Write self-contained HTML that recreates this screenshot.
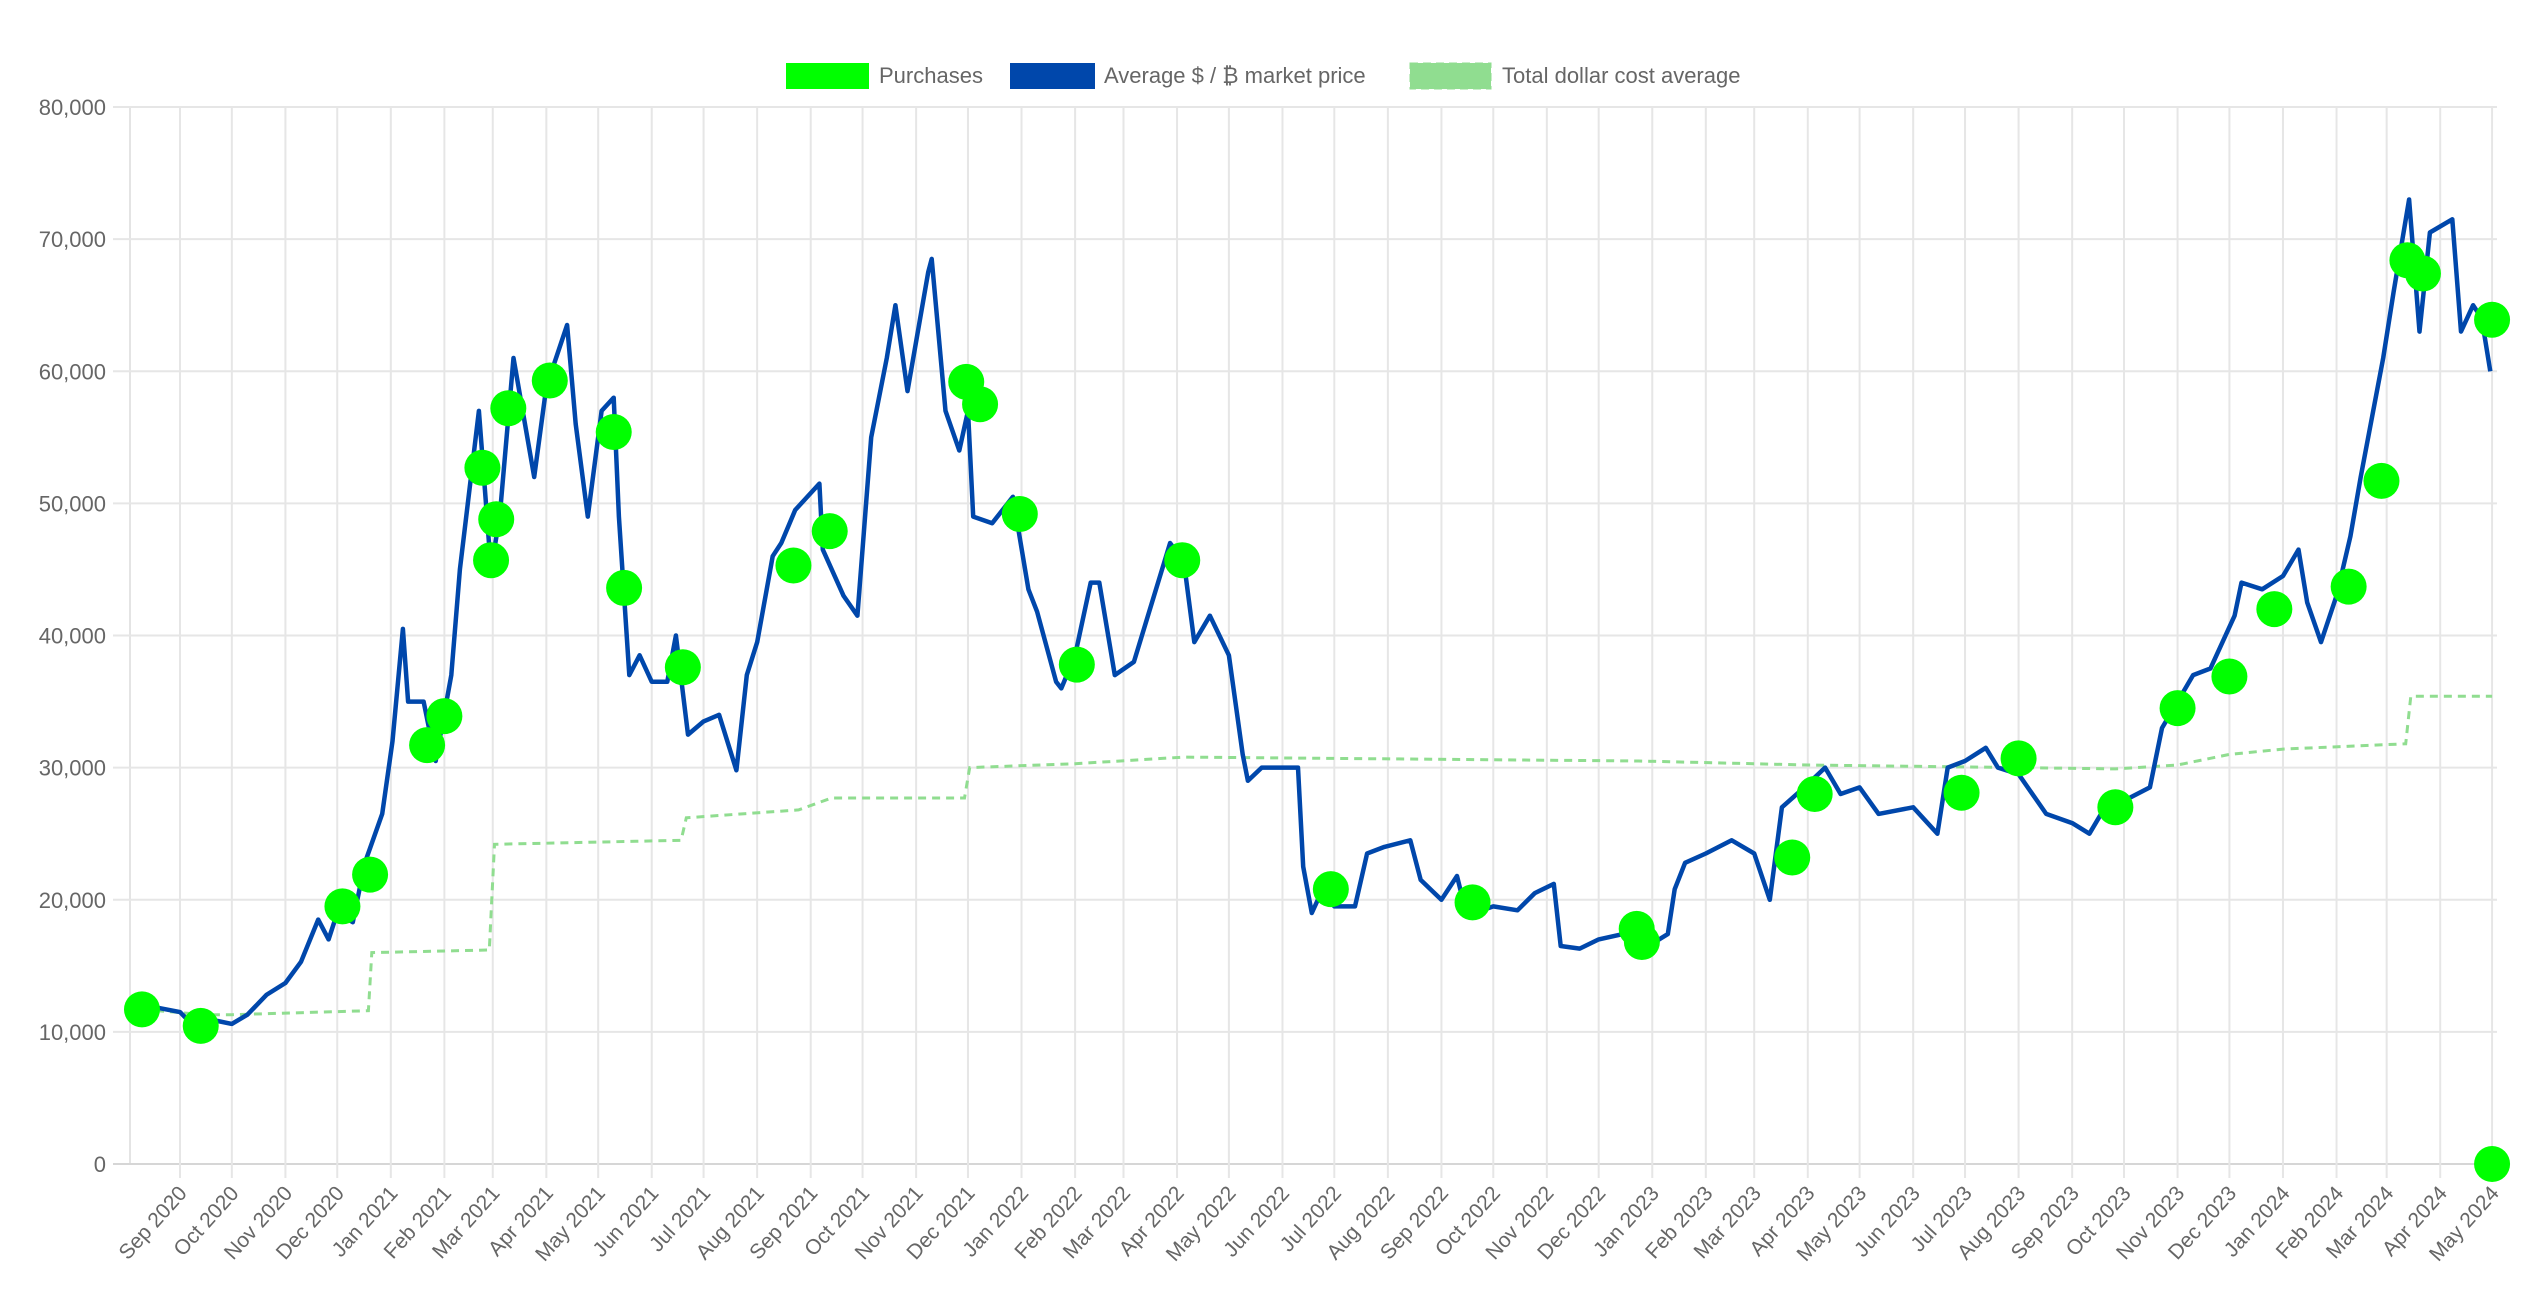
<!DOCTYPE html>
<html><head><meta charset="utf-8"><style>
html,body{margin:0;padding:0;background:#fff;}
svg{display:block;font-family:"Liberation Sans",sans-serif;}
</style></head><body>
<svg id="chart" width="2546" height="1296" viewBox="0 0 2546 1296" xmlns="http://www.w3.org/2000/svg">
<g id="legend" font-size="22" fill="#666">
 <g><rect x="786" y="63" width="83" height="26" fill="#00ff00"/><text x="879" y="83">Purchases</text></g>
 <g><rect x="1010" y="63" width="85" height="26" fill="#0047ab"/><text x="1104" y="83">Average $ / ₿ market price</text></g>
 <g><rect x="1410" y="63" width="81" height="26" fill="#90dd90" stroke="#90dd90" stroke-dasharray="8,5"/><text x="1502" y="83">Total dollar cost average</text></g>
</g>
<g id="grid"></g>
<g id="yaxis"></g>
<g id="xaxis"></g>
<g id="series"></g>
</svg>
<script>
const yTicks=[0,10000,20000,30000,40000,50000,60000,70000,80000];
const monthLabels=["Sep 2020","Oct 2020","Nov 2020","Dec 2020","Jan 2021","Feb 2021","Mar 2021","Apr 2021","May 2021","Jun 2021","Jul 2021","Aug 2021","Sep 2021","Oct 2021","Nov 2021","Dec 2021","Jan 2022","Feb 2022","Mar 2022","Apr 2022","May 2022","Jun 2022","Jul 2022","Aug 2022","Sep 2022","Oct 2022","Nov 2022","Dec 2022","Jan 2023","Feb 2023","Mar 2023","Apr 2023","May 2023","Jun 2023","Jul 2023","Aug 2023","Sep 2023","Oct 2023","Nov 2023","Dec 2023","Jan 2024","Feb 2024","Mar 2024","Apr 2024","May 2024"];
const priceDates=["2020-08-02","2020-08-10","2020-08-20","2020-09-01","2020-09-10","2020-09-20","2020-10-01","2020-10-10","2020-10-21","2020-11-01","2020-11-10","2020-11-20","2020-11-26","2020-12-01","2020-12-10","2020-12-17","2020-12-27","2021-01-02","2021-01-08","2021-01-11","2021-01-20","2021-01-27","2021-02-05","2021-02-10","2021-02-21","2021-02-28","2021-03-05","2021-03-13","2021-03-25","2021-04-01","2021-04-13","2021-04-18","2021-04-25","2021-05-03","2021-05-10","2021-05-13","2021-05-19","2021-05-25","2021-06-01","2021-06-10","2021-06-15","2021-06-22","2021-07-01","2021-07-10","2021-07-20","2021-07-26","2021-08-01","2021-08-10","2021-08-15","2021-08-23","2021-09-06","2021-09-08","2021-09-20","2021-09-28","2021-10-06","2021-10-15","2021-10-20","2021-10-27","2021-11-08","2021-11-10","2021-11-18","2021-11-26","2021-12-01","2021-12-04","2021-12-15","2021-12-27","2022-01-05","2022-01-10","2022-01-21","2022-01-24","2022-02-01","2022-02-10","2022-02-15","2022-02-24","2022-03-07","2022-03-28","2022-04-05","2022-04-11","2022-04-20","2022-05-01","2022-05-09","2022-05-12","2022-05-20","2022-06-01","2022-06-10","2022-06-13","2022-06-18","2022-06-25","2022-07-01","2022-07-13","2022-07-20","2022-07-30","2022-08-14","2022-08-20","2022-09-01","2022-09-10","2022-09-13","2022-09-20","2022-10-01","2022-10-15","2022-10-25","2022-11-05","2022-11-09","2022-11-20","2022-12-01","2022-12-15","2022-12-31","2023-01-10","2023-01-14","2023-01-20","2023-02-01","2023-02-16","2023-03-01","2023-03-10","2023-03-17","2023-03-30","2023-04-11","2023-04-20","2023-05-01","2023-05-12","2023-06-01","2023-06-15","2023-06-21","2023-07-01","2023-07-13","2023-07-20","2023-08-01","2023-08-17","2023-09-01","2023-09-11","2023-09-20","2023-10-01","2023-10-16","2023-10-23","2023-11-01","2023-11-10","2023-11-20","2023-12-04","2023-12-08","2023-12-20","2024-01-01","2024-01-10","2024-01-15","2024-01-23","2024-02-01","2024-02-09","2024-02-15","2024-02-28","2024-03-05","2024-03-14","2024-03-20","2024-03-26","2024-04-08","2024-04-13","2024-04-20","2024-04-25","2024-04-30"];
const priceValues=[11500,11800,11800,11500,10300,10900,10600,11300,12800,13700,15300,18500,17000,19000,18300,22800,26500,32000,40500,35000,35000,30500,37000,45000,57000,45000,49000,61000,52000,58800,63500,56000,49000,57000,58000,49000,37000,38500,36500,36500,40000,32500,33500,34000,29800,37000,39500,46000,47000,49500,51500,46500,43000,41500,55000,61000,65000,58500,67500,68500,57000,54000,57000,49000,48500,50500,43500,41800,36500,36000,38500,44000,44000,37000,38000,47000,45500,39500,41500,38500,31000,29000,30000,30000,30000,22500,19000,21000,19500,19500,23500,24000,24500,21500,20000,21800,20200,19000,19500,19200,20500,21200,16500,16300,17000,17400,16600,17400,20800,22800,23500,24500,23500,20000,27000,28500,30000,28000,28500,26500,27000,25000,30000,30500,31500,30000,29500,26500,25800,25000,27000,27500,28500,33000,35000,37000,37500,41500,44000,43500,44500,46500,42500,39500,43000,47500,52000,61000,66000,73000,63000,70500,71500,63000,65000,64000,60000];
const dcaDates=["2020-08-02","2020-09-15","2020-10-01","2020-12-19","2020-12-21","2021-02-27","2021-03-02","2021-06-18","2021-06-21","2021-08-25","2021-09-13","2021-11-29","2021-12-02","2022-02-01","2022-04-05","2022-07-01","2022-12-24","2023-04-01","2023-08-01","2023-09-26","2023-11-01","2023-12-01","2024-01-01","2024-03-12","2024-03-15","2024-05-01"];
const dcaValues=[11800,11300,11300,11600,16000,16200,24200,24500,26200,26800,27700,27700,30000,30300,30800,30700,30500,30200,30000,29900,30200,31000,31400,31800,35400,35400];
const purchaseDates=["2020-08-10","2020-09-13","2020-12-04","2020-12-20","2021-01-22","2021-02-01","2021-02-23","2021-02-28","2021-03-03","2021-03-10","2021-04-03","2021-05-10","2021-05-16","2021-06-19","2021-08-22","2021-09-12","2021-11-30","2021-12-08","2021-12-31","2022-02-02","2022-04-04","2022-06-29","2022-09-19","2022-12-23","2022-12-26","2023-03-23","2023-04-05","2023-06-29","2023-08-01","2023-09-26","2023-11-01","2023-12-01","2023-12-27","2024-02-08","2024-02-27","2024-03-13","2024-03-22","2024-05-01","2024-05-01"];
const purchaseValues=[11700,10450,19500,21900,31700,33900,52700,45700,48800,57200,59300,55400,43600,37600,45300,47900,59200,57500,49200,37800,45700,20800,19800,17800,16800,23200,28000,28100,30700,27000,34500,36900,42000,43700,51700,68400,67400,63900,0];

const NS="http://www.w3.org/2000/svg";
const X0=Date.UTC(2020,8,1), PXDAY=1.728, XBASE=180, LEFT=130, RIGHT=2497;
const Y0=1164, YTOP=107;
function xs(d){const p=d.split("-");return XBASE+(Date.UTC(+p[0],+p[1]-1,+p[2])-X0)/86400000*PXDAY;}
function ys(v){return Y0-v*(Y0-YTOP)/80000;}
function mk(tag,attrs,parent){const e=document.createElementNS(NS,tag);for(const k in attrs)e.setAttribute(k,attrs[k]);parent.appendChild(e);return e;}
const grid=document.getElementById("grid"),yax=document.getElementById("yaxis"),xax=document.getElementById("xaxis"),ser=document.getElementById("series");
const vl=mk("line",{x1:LEFT,x2:LEFT,y1:YTOP,y2:Y0,stroke:"#e4e4e4","stroke-width":2},grid);


yTicks.forEach(v=>{
 const y=ys(v);
 const l=mk("line",{x1:113,x2:RIGHT,y1:y,y2:y,stroke:v===0?"#d6d6d6":"#e6e6e6","stroke-width":2},grid);
 
 
 const t=mk("text",{x:106,y:y+8,"text-anchor":"end","font-size":22,fill:"#666"},yax);
 t.textContent=v.toLocaleString("en-US");
 
 
});
monthLabels.forEach((m,i)=>{
 const yr=2020+Math.floor((8+i)/12), mo=(8+i)%12;
 const x=XBASE+(Date.UTC(yr,mo,1)-X0)/86400000*PXDAY;
 const l=mk("line",{x1:x,x2:x,y1:YTOP,y2:Y0+14,stroke:"#e6e6e6","stroke-width":2},grid);
 
 
 const t=mk("text",{x:0,y:0,"text-anchor":"end","font-size":21,fill:"#666",transform:`translate(${x+8},${Y0+30}) rotate(-48)`},xax);
 t.textContent=m;
 
 
});
const dp=dcaDates.map((d,i)=>xs(d).toFixed(1)+","+ys(dcaValues[i]).toFixed(1)).join(" ");
const dl=mk("polyline",{points:dp,fill:"none",stroke:"#90dd90","stroke-width":3,"stroke-dasharray":"8,6"},ser);


const pp=priceDates.map((d,i)=>xs(d).toFixed(1)+","+ys(priceValues[i]).toFixed(1)).join(" ");
const pl=mk("polyline",{points:pp,fill:"none",stroke:"#0047ab","stroke-width":4.5,"stroke-linejoin":"round"},ser);


purchaseDates.forEach((d,i)=>{
 const c=mk("circle",{cx:xs(d),cy:ys(purchaseValues[i]),r:18,fill:"#00ff00"},ser);
 
 
});
</script>
</body></html>
